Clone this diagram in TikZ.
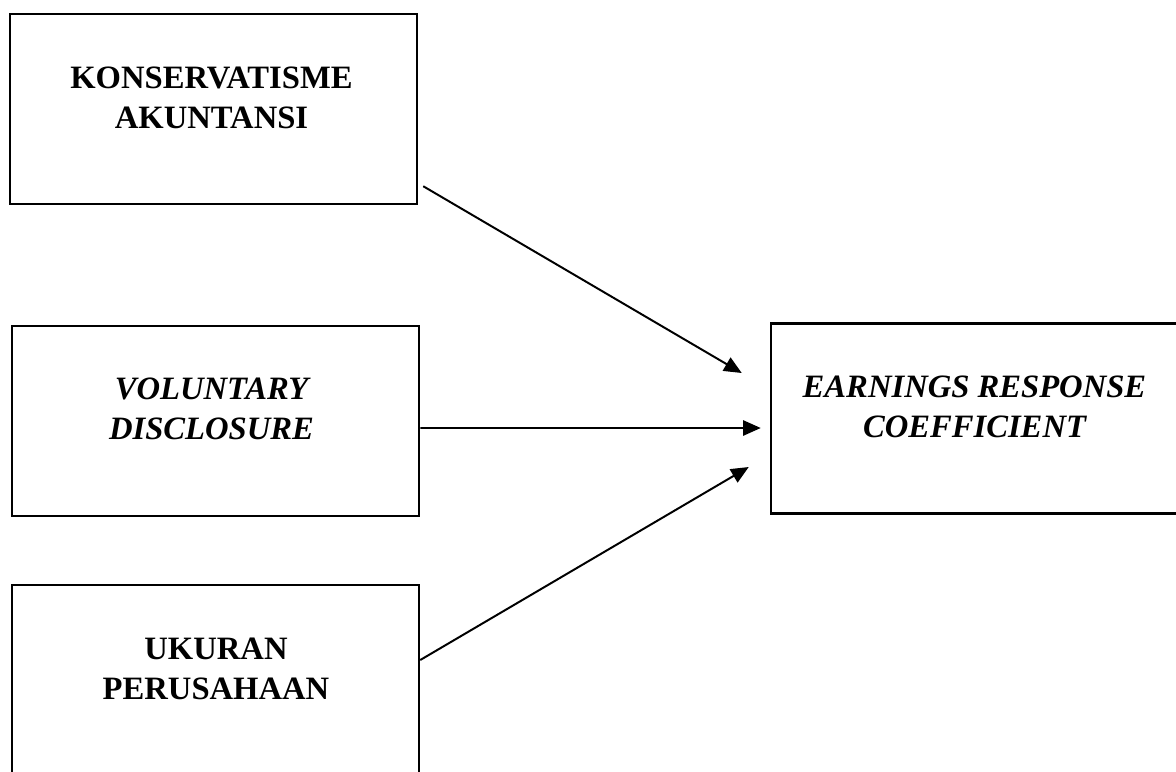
\documentclass[tikz,border=0pt]{standalone}
\usepackage{fontspec}
\setmainfont{Liberation Serif}
\usetikzlibrary{arrows.meta,calc}

\begin{document}
\begin{tikzpicture}[
    x=0.025cm, y=-0.025cm,
    vnode/.style={rectangle, draw, line width=1.7pt,
                  minimum width=10.175cm, minimum height=4.75cm, inner sep=0pt},
    lbl/.style={align=center, font=\bfseries\fontsize{23.2}{28}\selectfont},
    arr/.style={-{Triangle[length=0.44cm, width=0.38cm]}, line width=1.4pt},
  ]

  \clip (0, 0) rectangle (1176, 771);

  % Independent variables
  \node[vnode] (kons) at (213.5, 109) {};
  \node[lbl] (kons-t) at ($(kons)+(-2, -11)$) {KONSERVATISME\\AKUNTANSI};

  \node[vnode] (vd) at (215.5, 421) {};
  \node[lbl] (vd-t) at ($(vd)+(-4, -12)$) {\itshape VOLUNTARY\\\itshape DISCLOSURE};

  \node[vnode] (uk) at (215.5, 680) {};
  \node[lbl] (uk-t) at ($(uk)+(0.5, -11)$) {UKURAN\\PERUSAHAAN};

  % Dependent variable
  \node[vnode] (erc) at (974.5, 418.5) {};
  \node[lbl] (erc-t) at ($(erc)+(0, -11.5)$) {\itshape EARNINGS RESPONSE\\\itshape COEFFICIENT};

  % Edges
  \draw[arr] ($(kons.south east)+(5, -19)$) -- ($(erc.west)+(-28, -45.5)$);
  \draw[arr] ($(vd.east)+(0, 7)$) -- ($(erc.west)+(-9, 9.5)$);
  \draw[arr] ($(uk.east)+(0, -20)$) -- ($(erc.west)+(-21, 48.5)$);

\end{tikzpicture}
\end{document}
